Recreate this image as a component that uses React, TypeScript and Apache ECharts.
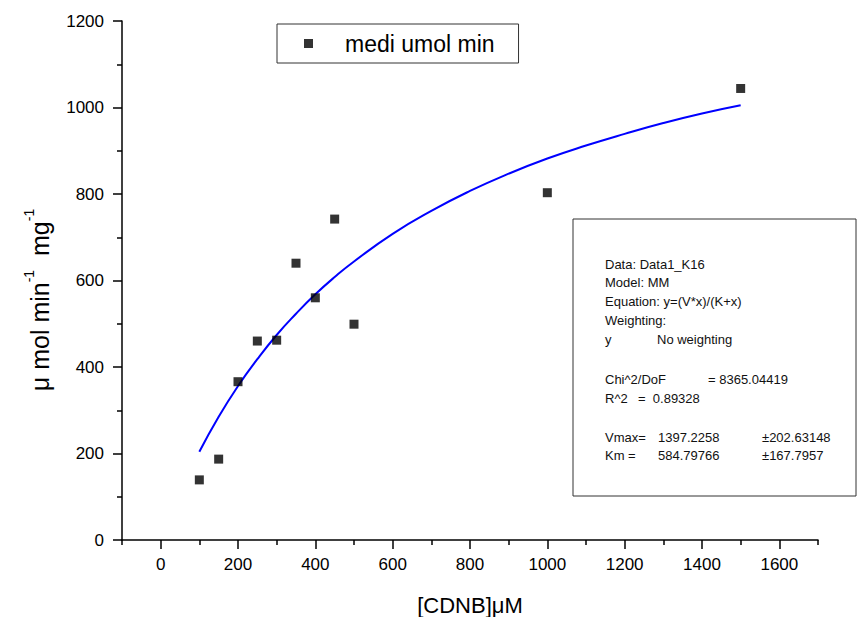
import React, { useEffect, useRef } from "react";
import * as echarts from "echarts";

const concentrations = [100, 150, 200, 250, 300, 350, 400, 450, 500, 1000, 1500];
const activities = [139, 187, 366, 460, 462, 640, 560, 742, 499, 803, 1044];

const fitX = [100, 150, 200, 250, 300, 350, 400, 450, 500, 600, 700, 800, 900, 1000, 1100, 1200, 1300, 1400, 1500];
const fitY = [204, 285, 356, 418, 474, 523, 568, 608, 644, 708, 761, 807, 847, 882, 912, 939, 964, 986, 1005];

const xMajorTicks = [0, 200, 400, 600, 800, 1000, 1200, 1400, 1600];
const xMinorTicks = [-100, 100, 300, 500, 700, 900, 1100, 1300, 1500, 1700];

const statsLines: [string, number, number][] = [
  ["Data: Data1_K16", 605, 264],
  ["Model: MM", 605, 282],
  ["Equation: y=(V*x)/(K+x)", 605, 301],
  ["Weighting:", 605, 320],
  ["y", 605, 339],
  ["No weighting", 657, 339],
  ["Chi^2/DoF", 605, 379],
  ["= 8365.04419", 708, 379],
  ["R^2", 605, 398],
  ["=  0.89328", 638, 398],
  ["Vmax=", 605, 437],
  ["1397.2258", 658, 437],
  ["±202.63148", 762, 437],
  ["Km =", 605, 455],
  ["584.79766", 658, 455],
  ["±167.7957", 762, 455],
];

const FONT = "Liberation Sans, Arial, sans-serif";

export default function App() {
  const ref = useRef<HTMLDivElement>(null);
  useEffect(() => {
    document.body.style.margin = "0";
    const chart = echarts.init(ref.current!, null, { renderer: "svg" });
    const scatterData = concentrations.map((c, i) => [c, activities[i]]);
    const fitData = fitX.map((c, i) => [c, fitY[i]]);
    const plain = (v: number) => String(v);
    chart.setOption({
      animation: false,
      backgroundColor: "#ffffff",
      textStyle: { fontFamily: FONT },
      grid: { left: 122, right: 41, top: 21, bottom: 77 },
      legend: {
        data: ["medi umol min"],
        left: 277,
        top: 24,
        padding: [8, 24, 8, 27],
        itemWidth: 9,
        itemHeight: 9,
        icon: "rect",
        borderColor: "#333",
        borderWidth: 1,
        textStyle: { fontSize: 23, color: "#000", fontFamily: FONT, padding: [0, 0, 0, 27] },
      },
      xAxis: [
        {
          type: "value",
          min: -100,
          max: 1700,
          interval: 100,
          axisLine: { show: true, onZero: false, lineStyle: { color: "#000", width: 1.5 } },
          axisTick: { show: true, length: 9, customValues: xMajorTicks, lineStyle: { color: "#000", width: 1.5 } },
          axisLabel: {
            customValues: xMajorTicks,
            formatter: plain,
            margin: 16,
            fontSize: 17,
            color: "#000",
            fontFamily: FONT,
          },
          splitLine: { show: false },
        },
        {
          type: "value",
          position: "bottom",
          min: -100,
          max: 1700,
          interval: 100,
          axisLine: { show: false },
          axisTick: { show: true, length: 5, customValues: xMinorTicks, lineStyle: { color: "#000", width: 1.5 } },
          axisLabel: { show: false },
          splitLine: { show: false },
        },
      ],
      yAxis: {
        type: "value",
        min: 0,
        max: 1200,
        interval: 200,
        axisLine: { show: true, onZero: false, lineStyle: { color: "#000", width: 1.5 } },
        axisTick: { show: true, length: 9, lineStyle: { color: "#000", width: 1.5 } },
        minorTick: { show: true, splitNumber: 2, length: 5, lineStyle: { color: "#000", width: 1.5 } },
        axisLabel: { margin: 18, fontSize: 17, color: "#000", fontFamily: FONT, formatter: plain },
        splitLine: { show: false },
      },
      series: [
        {
          name: "fit",
          type: "line",
          data: fitData,
          smooth: true,
          showSymbol: false,
          lineStyle: { color: "#0000ff", width: 2 },
          z: 2,
        },
        {
          name: "medi umol min",
          type: "scatter",
          data: scatterData,
          symbol: "rect",
          symbolSize: 9,
          itemStyle: { color: "#000" },
          z: 3,
        },
      ],
      graphic: [
        {
          type: "text",
          x: 470,
          y: 605,
          style: {
            text: "[CDNB]μM",
            fontSize: 22,
            fontFamily: FONT,
            fill: "#000",
            textAlign: "center",
            textVerticalAlign: "middle",
          },
        },
        {
          type: "text",
          x: 37,
          y: 300,
          rotation: Math.PI / 2,
          style: {
            text: "{n|μ mol min}{s|-1}{n|  mg}{s|-1}",
            fontFamily: FONT,
            fill: "#000",
            textAlign: "center",
            textVerticalAlign: "middle",
            rich: {
              n: { fontSize: 25, fontFamily: FONT, fill: "#000", lineHeight: 30, verticalAlign: "bottom" },
              s: { fontSize: 14, fontFamily: FONT, fill: "#000", lineHeight: 30, verticalAlign: "top" },
            },
          },
        },
        {
          type: "rect",
          shape: { x: 573, y: 219, width: 283, height: 277 },
          style: { fill: "#fff", stroke: "#333", lineWidth: 1 },
          z: 10,
        },
        ...statsLines.map(([t, x, y]) => ({
          type: "text",
          x,
          y,
          z: 11,
          style: {
            text: t,
            fontSize: 13,
            fontFamily: FONT,
            fill: "#111",
            textVerticalAlign: "middle",
          },
        })),
      ],
    });
    return () => chart.dispose();
  }, []);
  return <div ref={ref} style={{ width: 859, height: 617, position: "absolute", left: 0, top: 0 }} />;
}
